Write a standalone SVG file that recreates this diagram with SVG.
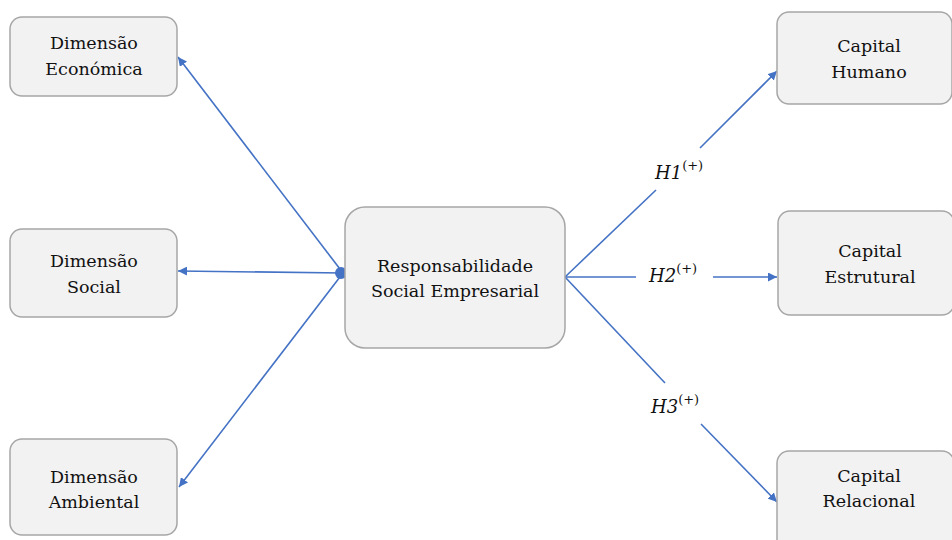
<svg xmlns="http://www.w3.org/2000/svg" width="952" height="540" viewBox="0 0 952 540">
<defs>
<marker id="arr" viewBox="0 0 10 10" refX="10" refY="5" markerWidth="9" markerHeight="9" markerUnits="userSpaceOnUse" orient="auto">
<path d="M0,0 L10,5 L0,10 z" fill="#4472c4"/>
</marker>
<style>
.box{fill:#f2f2f2;stroke:#a6a6a6;stroke-width:1.5}
.t{font-family:"DejaVu Serif","Liberation Serif",serif;font-size:17.5px;fill:#111111;text-anchor:middle}
.c{stroke:#4472c4;stroke-width:1.6;fill:none}
.h{font-family:"DejaVu Serif","Liberation Serif",serif;font-size:18px;font-style:italic;fill:#111111}
.s{font-style:normal;font-size:13px}
</style>
</defs>
<rect width="952" height="540" fill="#ffffff"/>
<g id="connectors">
<line class="c" x1="343" y1="273" x2="178" y2="57" marker-end="url(#arr)"/>
<line class="c" x1="343" y1="273" x2="178" y2="271" marker-end="url(#arr)"/>
<line class="c" x1="343" y1="273" x2="179" y2="487" marker-end="url(#arr)"/>
<circle cx="341" cy="273" r="6" fill="#4472c4"/>
<line class="c" x1="565" y1="277" x2="656" y2="190"/>
<line class="c" x1="700" y1="148" x2="777" y2="71" marker-end="url(#arr)"/>
<line class="c" x1="565" y1="277" x2="636" y2="277"/>
<line class="c" x1="713" y1="277" x2="777" y2="277" marker-end="url(#arr)"/>
<line class="c" x1="565" y1="277" x2="665" y2="383"/>
<line class="c" x1="701" y1="424" x2="777" y2="502" marker-end="url(#arr)"/>
<text class="h" x="655" y="179">H1<tspan class="s" dy="-9">(+)</tspan></text>
<text class="h" x="649" y="282">H2<tspan class="s" dy="-9">(+)</tspan></text>
<text class="h" x="651" y="413">H3<tspan class="s" dy="-9">(+)</tspan></text>
</g>
<g id="economica">
<rect class="box" x="10" y="17" width="167" height="79" rx="12"/>
<text class="t" x="94" y="49">Dimensão</text>
<text class="t" x="94" y="75">Económica</text>
</g>
<g id="social">
<rect class="box" x="10" y="229" width="167" height="88" rx="12"/>
<text class="t" x="94" y="267">Dimensão</text>
<text class="t" x="94" y="293">Social</text>
</g>
<g id="ambiental">
<rect class="box" x="10" y="439" width="167" height="96" rx="12"/>
<text class="t" x="94" y="483">Dimensão</text>
<text class="t" x="94" y="508">Ambiental</text>
</g>
<g id="rse">
<rect class="box" x="345" y="207" width="220" height="141" rx="20"/>
<text class="t" x="455" y="272">Responsabilidade</text>
<text class="t" x="455" y="297">Social Empresarial</text>
</g>
<g id="humano">
<rect class="box" x="777" y="12" width="175" height="92" rx="12"/>
<text class="t" x="869" y="52">Capital</text>
<text class="t" x="869" y="78">Humano</text>
</g>
<g id="estrutural">
<rect class="box" x="778" y="211" width="176" height="104" rx="12"/>
<text class="t" x="870" y="257">Capital</text>
<text class="t" x="870" y="283">Estrutural</text>
</g>
<g id="relacional">
<rect class="box" x="777" y="451" width="177" height="100" rx="12"/>
<text class="t" x="869" y="482">Capital</text>
<text class="t" x="869" y="507">Relacional</text>
</g>
</svg>
